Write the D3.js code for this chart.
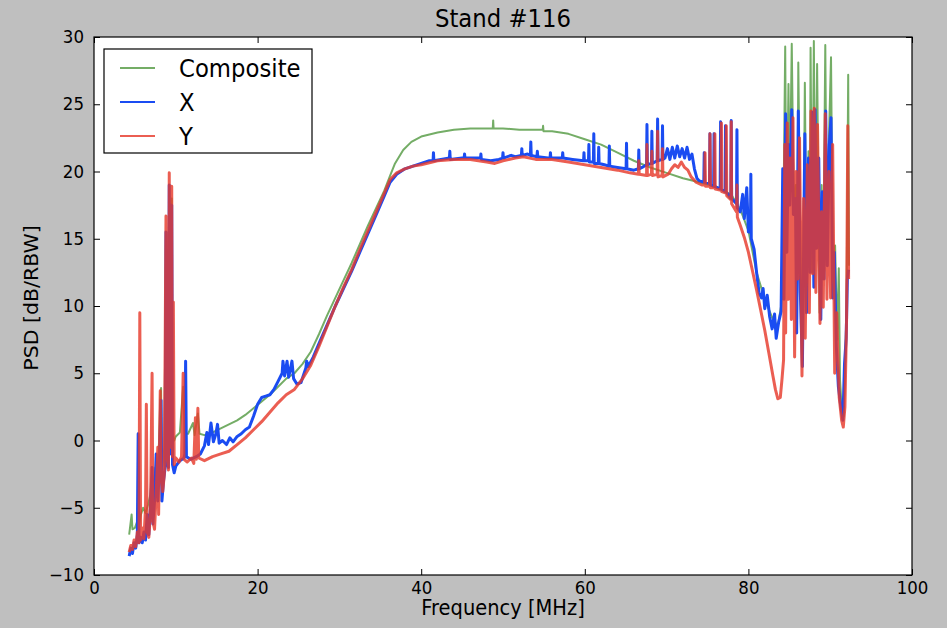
<!DOCTYPE html>
<html>
<head>
<meta charset="utf-8">
<script src="https://cdn.jsdelivr.net/npm/d3@7"></script>
<style>
  html, body { margin: 0; padding: 0; background: #bfbfbf; }
  svg { display: block; }
  text { font-family: "DejaVu Sans", "Bitstream Vera Sans", sans-serif; fill: #000; }
</style>
</head>
<body>
<svg id="chart" width="947" height="628"></svg>
<script>
// Axis ticks
const xTicks = [0, 20, 40, 60, 80, 100];
const yTicks = [-10, -5, 0, 5, 10, 15, 20, 25, 30];
const seriesNames = ["Composite", "X", "Y"];

// Composite PSD: [frequency MHz, dB/RBW]
const compositePsd = [
  [4.3,-7.0],[4.5,-6.0],[4.6,-5.5],[4.7,-6.6],[5.0,-6.5],[5.3,-6.0],[5.5,-6.3],[5.7,-5.6],
  [6.0,-5.0],[6.3,-5.4],[6.6,-4.8],[6.9,-4.0],[7.1,-2.5],[7.3,-4.0],[7.5,-2.0],[7.7,-3.0],
  [7.9,-1.0],[8.1,3.0],[8.2,3.9],[8.3,-2.5],[8.6,-0.5],[8.8,15.0],[8.9,0.5],[9.1,0.0],
  [9.2,19.0],[9.3,0.5],[9.5,18.0],[9.6,0.3],[9.8,0.0],[10.0,0.3],[10.5,0.6],[10.9,4.0],
  [11.1,0.5],[11.5,0.5],[12.1,1.3],[12.3,0.4],[12.7,2.0],[12.9,0.5],[13.5,0.4],[14.5,0.6],
  [15.5,0.9],[16.5,1.2],[17.5,1.5],[18.5,1.9],[19.5,2.4],[20.5,2.9],[21.5,3.4],[22.5,4.0],
  [23.5,4.6],[24.5,5.0],[25.5,5.7],[26.5,6.6],[27.5,7.9],[28.5,9.3],[29.5,10.6],[30.5,11.9],
  [31.5,13.2],[32.5,14.6],[33.5,16.0],[34.5,17.3],[35.5,18.6],[36.2,19.7],[36.8,20.6],
  [37.8,21.6],[38.8,22.2],[40.0,22.6],[42.0,22.9],[44.0,23.1],[46.0,23.2],[48.0,23.2],
  [48.75,23.2],[48.8,23.8],[48.85,23.2],[50.0,23.2],[52.0,23.1],[54.0,23.1],[54.85,23.1],
  [54.9,23.4],[54.95,23.0],[56.0,23.0],[58.0,22.8],[60.0,22.4],[62.0,22.0],[64.0,21.4],
  [66.0,20.8],[68.0,20.3],[70.0,19.9],[72.0,19.5],[74.0,19.2],[76.0,18.9],[77.0,18.6],
  [78.0,18.2],[79.0,17.2],[80.0,15.6],[81.0,12.5],[82.0,10.5],[83.0,9.0],[83.6,8.5],
  [84.0,10.0],[84.2,12.0],[84.5,29.3],[84.65,14.0],[84.9,26.5],[85.05,18.0],[85.3,29.5],
  [85.55,17.0],[85.8,19.0],[85.95,9.0],[86.1,28.1],[86.4,12.0],[86.65,6.0],[86.9,26.6],
  [87.15,10.0],[87.35,21.5],[87.5,13.0],[87.6,29.2],[87.8,12.5],[88.0,29.7],[88.2,14.5],
  [88.4,28.0],[88.7,9.5],[88.95,19.0],[89.15,12.5],[89.4,29.4],[89.6,13.5],[89.85,22.5],
  [90.1,28.5],[90.35,11.0],[90.6,14.5],[90.85,7.5],[91.05,12.8],[91.2,4.5],[91.45,2.0],
  [91.65,1.8],[91.85,6.0],[92.0,10.0],[92.2,27.2],[92.3,13.0]
];

// X-axis PSD
const xPsd = [
  [4.3,-8.6],[4.5,-8.0],[4.7,-8.4],[4.9,-7.6],[5.1,-8.0],[5.3,-7.0],[5.4,0.5],[5.5,-7.6],
  [5.7,-7.2],[5.9,-7.6],[6.1,-6.8],[6.3,-7.4],[6.5,-5.5],[6.7,-7.0],[6.9,-5.0],[7.1,-2.0],
  [7.2,-6.2],[7.4,-4.5],[7.6,-1.0],[7.8,-4.5],[8.0,-2.0],[8.2,3.0],[8.3,-4.5],[8.5,-3.0],
  [8.7,-2.0],[8.8,15.5],[8.9,-1.5],[9.1,-2.0],[9.2,19.0],[9.3,-1.0],[9.5,17.5],[9.6,-1.8],
  [9.8,-2.4],[10.0,-1.9],[10.5,-1.5],[11.0,-1.3],[11.1,-1.0],[11.2,5.9],[11.3,-1.2],
  [11.8,-1.4],[12.5,-1.2],[13.0,-1.0],[13.5,-0.4],[13.8,0.6],[14.0,-0.3],[14.3,1.3],
  [14.6,-0.1],[14.9,0.5],[15.1,1.2],[15.3,-0.2],[15.7,0.0],[16.2,-0.3],[16.6,0.2],
  [17.0,-0.1],[17.5,0.3],[18.0,0.5],[18.5,0.8],[19.0,1.0],[19.5,1.8],[20.0,2.7],[20.5,3.2],
  [21.0,3.3],[21.5,3.4],[22.0,3.8],[22.5,4.4],[23.0,5.0],[23.1,5.9],[23.3,4.8],[23.6,5.9],
  [23.8,4.7],[24.2,5.9],[24.4,4.6],[24.8,4.2],[25.3,4.3],[25.9,5.4],[26.0,5.9],[26.2,5.5],
  [26.8,6.2],[27.5,7.2],[28.5,8.6],[29.5,10.0],[30.5,11.3],[31.5,12.6],[32.5,14.0],
  [33.5,15.4],[34.5,16.8],[35.5,18.2],[36.2,19.2],[37.0,19.8],[38.0,20.2],[39.0,20.4],
  [40.0,20.6],[41.0,20.8],[41.45,20.8],[41.5,21.4],[41.55,20.8],[43.45,21.0],[43.5,21.5],
  [43.55,20.9],[45.0,21.0],[45.25,21.0],[45.3,21.3],[45.35,21.0],[47.0,21.0],[47.25,21.0],
  [47.3,21.3],[47.35,20.9],[48.5,20.8],[49.5,20.9],[49.95,21.0],[50.0,21.4],[50.05,21.0],
  [51.0,21.2],[51.5,21.1],[52.25,21.2],[52.3,21.7],[52.35,21.2],[53.0,21.3],[53.35,21.2],
  [53.4,22.2],[53.45,21.2],[54.15,21.1],[54.2,21.5],[54.25,21.1],[55.5,21.0],[55.75,21.0],
  [55.8,21.4],[55.85,21.0],[57.0,21.0],[57.25,21.0],[57.3,21.4],[57.35,21.0],[58.5,20.9],
  [59.85,20.8],[59.9,21.4],[59.95,20.8],[60.45,20.8],[60.5,22.0],[60.55,20.7],[61.05,20.7],
  [61.1,22.8],[61.15,20.6],[61.65,20.6],[61.7,21.8],[61.75,20.6],[62.4,20.5],[62.95,20.4],
  [63.0,21.9],[63.05,20.4],[64.0,20.3],[65.05,20.2],[65.1,22.1],[65.15,20.2],[66.0,20.1],
  [66.55,20.2],[66.6,21.6],[66.65,20.2],[67.0,20.3],[67.55,20.5],[67.6,23.5],[67.65,20.5],
  [68.15,20.6],[68.2,23.0],[68.25,20.6],[68.85,20.8],[68.9,23.9],[68.95,20.8],[69.45,20.9],
  [69.5,23.4],[69.55,20.9],[69.8,21.0],[70.1,21.7],[70.4,20.9],[70.7,21.8],[71.0,21.0],
  [71.3,21.9],[71.6,21.1],[71.9,21.7],[72.2,21.0],[72.5,21.8],[72.8,20.9],[73.1,21.3],
  [73.4,20.2],[73.7,19.5],[74.0,19.3],[74.55,19.2],[74.6,21.4],[74.65,19.2],[75.25,19.1],
  [75.3,22.8],[75.35,19.0],[75.75,18.9],[75.8,22.8],[75.85,18.9],[76.55,18.7],[76.6,23.7],
  [76.65,18.7],[77.15,18.5],[77.2,23.4],[77.25,18.5],[77.85,18.0],[77.9,23.8],[77.95,18.0],
  [78.55,17.6],[78.6,23.1],[78.65,17.3],[79.0,17.0],[79.3,18.3],[79.5,16.5],[79.8,18.8],
  [80.0,15.5],[80.25,15.5],[80.3,19.8],[80.35,15.0],[80.7,14.2],[81.0,12.5],[81.3,11.0],
  [81.6,10.6],[81.8,11.3],[82.0,9.8],[82.3,10.8],[82.6,9.2],[82.9,8.3],[83.2,9.4],
  [83.4,7.6],[83.7,8.8],[84.0,9.6],
  [84.2,20.2],[84.35,10.5],[84.55,24.3],[84.7,14.0],[84.9,22.0],[85.05,17.5],[85.3,24.6],
  [85.5,16.8],[85.75,18.0],[85.9,8.0],[86.1,24.5],[86.35,11.0],[86.6,5.5],[86.9,22.8],
  [87.1,9.5],[87.35,21.0],[87.55,12.5],[87.8,24.4],[88.0,11.4],[88.15,24.6],[88.35,14.3],
  [88.6,21.0],[88.85,9.0],[89.05,18.5],[89.25,12.0],[89.45,24.5],[89.65,13.0],[89.9,22.0],
  [90.1,24.0],[90.3,10.6],[90.5,14.0],[90.75,7.0],[91.0,4.0],[91.3,2.5],[91.55,1.5],
  [91.75,5.7],[91.95,7.6],[92.1,12.0],[92.25,12.7]
];

// Y-axis PSD
const yPsd = [
  [4.3,-8.3],[4.5,-7.8],[4.7,-8.1],[4.9,-7.4],[5.1,-7.9],[5.3,-6.8],[5.5,-7.6],[5.6,9.5],
  [5.7,-7.4],[5.9,-6.5],[6.1,-7.3],[6.3,-5.0],[6.4,2.7],[6.5,-6.8],[6.7,-7.2],[6.9,-5.5],
  [7.1,5.0],[7.2,-6.0],[7.4,-6.6],[7.6,-4.0],[7.8,-0.5],[7.9,-5.5],[8.1,3.7],[8.2,-2.0],
  [8.4,-3.8],[8.6,-2.5],[8.8,16.7],[8.9,-1.0],[9.1,-2.2],[9.2,19.9],[9.3,-0.5],[9.5,18.9],
  [9.6,-1.2],[9.7,10.3],[9.8,-1.8],[10.0,-1.3],[10.4,-1.6],[10.7,-1.2],[10.9,5.0],
  [11.0,-1.4],[11.4,-1.6],[11.9,-1.3],[12.2,-1.7],[12.4,1.7],[12.5,-1.4],[12.7,2.4],
  [12.8,-1.3],[13.5,-1.5],[14.5,-1.2],[15.5,-1.0],[16.5,-0.8],[17.5,-0.3],[18.5,0.2],
  [19.5,0.8],[20.5,1.4],[21.5,2.1],[22.5,2.8],[23.5,3.4],[24.5,3.8],[25.5,4.6],[26.5,5.6],
  [27.5,7.0],[28.5,8.5],[29.5,10.0],[30.5,11.4],[31.5,12.7],[32.5,14.2],[33.5,15.6],
  [34.5,17.0],[35.5,18.4],[36.2,19.4],[37.0,19.9],[38.0,20.2],[39.0,20.4],[40.0,20.5],
  [42.0,20.8],[44.0,20.9],[46.0,20.9],[48.0,20.7],[49.0,20.6],[50.0,20.8],[51.5,21.0],
  [52.5,21.1],[54.0,20.9],[56.0,20.9],[58.0,20.7],[60.0,20.5],[62.0,20.3],[64.0,20.1],
  [65.5,19.9],[66.55,19.8],[66.6,20.8],[66.65,19.8],[67.55,19.7],[67.6,22.0],[67.65,19.7],
  [68.15,19.8],[68.2,21.5],[68.25,19.7],[68.85,19.8],[68.9,23.0],[68.95,19.6],[69.45,19.7],
  [69.5,21.7],[69.55,19.6],[70.2,19.8],[70.6,20.2],[71.0,20.5],[71.4,20.3],[71.8,20.7],
  [72.2,20.3],[72.6,20.1],[73.0,19.6],[73.6,19.2],[74.3,19.0],[74.65,19.0],[74.7,21.4],
  [74.75,18.9],[75.25,18.9],[75.3,22.8],[75.35,18.8],[75.85,18.8],[75.9,22.8],[75.95,18.7],
  [76.65,18.6],[76.7,23.6],[76.75,18.5],[77.25,18.4],[77.3,23.4],[77.35,18.2],[77.85,17.9],
  [77.9,23.7],[77.95,17.6],[78.55,17.0],[78.6,19.0],[78.65,16.6],[79.0,16.0],[79.5,15.1],
  [80.0,14.0],[80.5,12.6],[81.0,11.2],[81.5,9.7],[82.0,8.2],[82.5,6.5],[83.0,4.8],
  [83.3,3.8],[83.6,3.1],[83.9,3.2],[84.1,4.5],[84.3,6.0],[84.45,22.0],[84.55,8.0],
  [84.75,23.6],[84.9,10.5],[85.1,21.0],[85.25,9.0],[85.45,24.0],[85.65,6.2],[85.85,20.0],
  [86.05,12.0],[86.25,22.5],[86.55,4.8],[86.75,18.0],[86.95,7.6],[87.2,20.5],[87.45,9.5],
  [87.65,24.5],[87.85,12.4],[88.05,24.7],[88.25,11.0],[88.45,23.5],[88.75,8.7],[88.95,17.0],
  [89.15,9.9],[89.4,24.3],[89.6,10.5],[89.85,20.0],[90.05,10.6],[90.3,22.0],[90.55,5.0],
  [90.8,9.5],[91.1,3.2],[91.4,1.5],[91.6,1.0],[91.8,2.5],[92.0,9.0],[92.15,23.4],[92.25,12.0]
];

const seriesData = [compositePsd, xPsd, yPsd];
const seriesColors = ["#74ad66", "#1a4cf2", "#e63a2c"];
const seriesWidths = [2.0, 3.0, 3.0];
const seriesOpacity = [1, 1, 0.82];

const svg = d3.select("#chart");
const plot = { left: 94, right: 912, top: 37, bottom: 575 };
const squash = 0.95; // horizontal text compression

const x = d3.scaleLinear().domain([0, 100]).range([plot.left, plot.right]);
const y = d3.scaleLinear().domain([-10, 30]).range([plot.bottom, plot.top]);

// Plot background
svg.append("rect")
  .attr("x", plot.left).attr("y", plot.top)
  .attr("width", plot.right - plot.left).attr("height", plot.bottom - plot.top)
  .attr("fill", "#fff");

svg.append("clipPath").attr("id", "plotClip")
  .append("rect")
  .attr("x", plot.left).attr("y", plot.top)
  .attr("width", plot.right - plot.left).attr("height", plot.bottom - plot.top);

// Spectra
const line = d3.line().x(d => x(d[0])).y(d => y(d[1]));
const lines = svg.append("g").attr("clip-path", "url(#plotClip)");
seriesData.forEach((data, i) => {
  lines.append("path")
    .datum(data)
    .attr("d", line)
    .attr("fill", "none")
    .attr("stroke", seriesColors[i])
    .attr("stroke-width", seriesWidths[i])
    .attr("stroke-opacity", seriesOpacity[i])
    .attr("stroke-linejoin", "round");
});

// Axes (inward ticks on all four sides)
const fmt = d3.format("");
const gx = svg.append("g").attr("transform", `translate(0,${plot.bottom})`)
  .call(d3.axisBottom(x).tickValues(xTicks).tickFormat(fmt).tickSizeInner(-6).tickSizeOuter(0).tickPadding(7));
const gy = svg.append("g").attr("transform", `translate(${plot.left},0)`)
  .call(d3.axisLeft(y).tickValues(yTicks).tickFormat(fmt).tickSizeInner(-6).tickSizeOuter(0).tickPadding(10));
svg.append("g").attr("transform", `translate(0,${plot.top})`)
  .call(d3.axisTop(x).tickValues(xTicks).tickFormat("").tickSizeInner(-6).tickSizeOuter(0));
svg.append("g").attr("transform", `translate(${plot.right},0)`)
  .call(d3.axisRight(y).tickValues(yTicks).tickFormat("").tickSizeInner(-6).tickSizeOuter(0));

svg.selectAll(".domain").remove();
svg.selectAll(".tick line").attr("stroke", "#000").attr("stroke-width", 1);
[gx, gy].forEach(g => g.selectAll(".tick text")
  .attr("font-family", "DejaVu Sans, sans-serif")
  .attr("font-size", 17.5)
  .attr("fill", "#000"));
gx.selectAll(".tick text").attr("transform", `scale(${squash},1)`);
gy.selectAll(".tick text").each(function () {
  const t = d3.select(this);
  const tx = +t.attr("x");
  t.attr("x", 0).attr("transform", `translate(${tx},0) scale(${squash},1)`);
});

// Frame
svg.append("rect")
  .attr("x", plot.left).attr("y", plot.top)
  .attr("width", plot.right - plot.left).attr("height", plot.bottom - plot.top)
  .attr("fill", "none").attr("stroke", "#000").attr("stroke-width", 1.2);

// Title and axis labels
svg.append("text")
  .attr("transform", `translate(${(plot.left + plot.right) / 2},27) scale(${squash},1)`)
  .attr("text-anchor", "middle").attr("font-size", 24)
  .text("Stand #116");
svg.append("text")
  .attr("transform", `translate(${(plot.left + plot.right) / 2},615) scale(${squash},1)`)
  .attr("text-anchor", "middle").attr("font-size", 20.5)
  .text("Frequency [MHz]");
svg.append("text")
  .attr("transform", `translate(38,${(plot.top + plot.bottom) / 2 - 8}) rotate(-90) scale(1,${squash})`)
  .attr("text-anchor", "middle").attr("font-size", 20.5)
  .text("PSD [dB/RBW]");

// Legend
const legend = svg.append("g");
legend.append("rect")
  .attr("x", 104).attr("y", 49).attr("width", 208).attr("height", 104)
  .attr("fill", "#fff").attr("stroke", "#000").attr("stroke-width", 1.2);
seriesNames.forEach((name, i) => {
  const ly = 68 + i * 34;
  legend.append("line")
    .attr("x1", 120).attr("x2", 155).attr("y1", ly).attr("y2", ly)
    .attr("stroke", seriesColors[i]).attr("stroke-width", 2)
    .attr("stroke-opacity", seriesOpacity[i]);
  legend.append("text")
    .attr("transform", `translate(179,${ly + 8.5}) scale(${squash},1)`)
    .attr("font-size", 24)
    .text(name);
});
</script>
</body>
</html>
